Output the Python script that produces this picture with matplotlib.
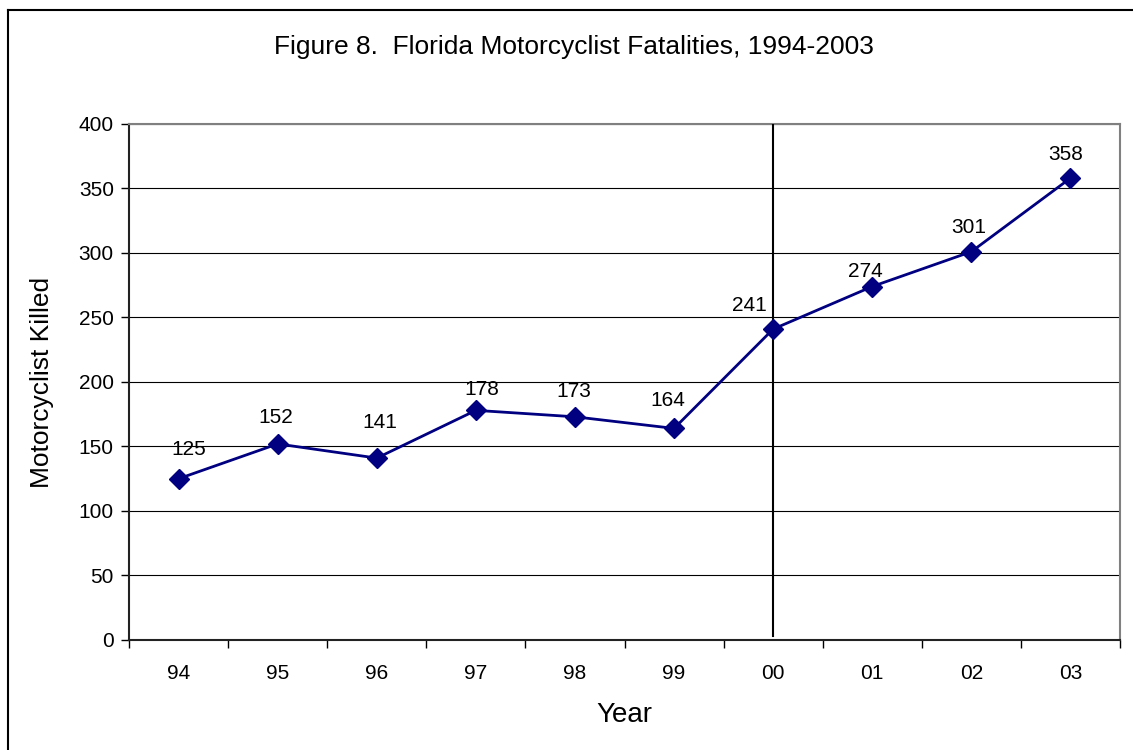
import matplotlib.pyplot as plt
from matplotlib.lines import Line2D

years = ["94", "95", "96", "97", "98", "99", "00", "01", "02", "03"]
killed = [125, 152, 141, 178, 173, 164, 241, 274, 301, 358]

# where each value label sits relative to its marker (pixels, x shift / baseline gap)
label_dx = [10, -2, 3, 6, -1, -6, -24, -7, -3, -5]
label_dy = [24, 21, 30, 15, 20, 22, 18, 10, 19, 18]

plt.rcParams['font.family'] = ['Liberation Sans', 'DejaVu Sans']

fig = plt.figure(figsize=(11.33, 7.5), dpi=100)
ax = fig.add_axes([0.1139, 0.1467, 0.8746, 0.688])

x = list(range(len(years)))
ax.plot(x, killed, color="#000080", lw=2, marker="D", markersize=10,
        markerfacecolor="#000080", markeredgecolor="#000080", zorder=4)

for xi, v in zip(x, killed):
    ax.annotate(str(v), (xi, v), xytext=(label_dx[xi], label_dy[xi]),
                textcoords="offset pixels", ha="center", va="baseline", fontsize=15)

# vertical separator at 2000
ax.plot([6, 6], [3, 400], color="black", lw=1.5, zorder=3)

ax.set_xlim(-0.5, 9.5)
ax.set_ylim(0, 400)
ax.set_yticks(range(0, 401, 50))
ax.set_xticks(x)
ax.set_xticklabels(years)
ax.set_xticks([i - 0.5 for i in range(len(years) + 1)], minor=True)
ax.tick_params(axis="x", which="major", length=0, pad=17, labelsize=15)
ax.tick_params(axis="x", which="minor", length=6, direction="out", width=1)
ax.tick_params(axis="y", length=6, direction="out", width=1, labelsize=15, pad=5)

ax.grid(axis="y", color="black", lw=0.8)
ax.set_axisbelow(True)
for s in ["top", "right"]:
    ax.spines[s].set_color("#808080")
    ax.spines[s].set_linewidth(1.5)
for s in ["left", "bottom"]:
    ax.spines[s].set_color("#222222")
    ax.spines[s].set_linewidth(1.5)

ax.set_xlabel("Year", fontsize=20, labelpad=14)
ax.set_ylabel("Motorcyclist Killed", fontsize=19, labelpad=18)
fig.text(0.507, 0.937, "Figure 8.  Florida Motorcyclist Fatalities, 1994-2003",
         ha="center", va="center", fontsize=19)

# outer frame (top and left)
fig.add_artist(Line2D([0.0075, 0.0075], [0.0, 0.987], color="black", lw=1.5,
                      transform=fig.transFigure))
fig.add_artist(Line2D([0.0075, 0.999], [0.987, 0.987], color="black", lw=1.5,
                      transform=fig.transFigure))

fig.savefig("out.png", dpi=100)
